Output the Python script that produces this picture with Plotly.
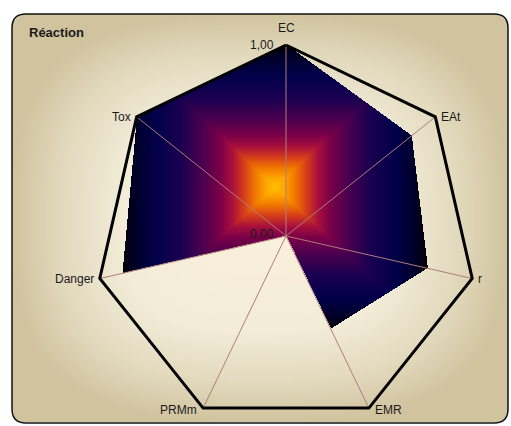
import numpy as np
import plotly.graph_objects as go

# ---------------- data ----------------
categories = ["EC", "EAt", "r", "EMR", "PRMm", "Danger", "Tox"]
values = [1.00, 0.84, 0.76, 0.54, 0.00, 0.88, 1.00]
axis_max = [1.00, 1.00, 1.00, 1.00, 1.00, 1.00, 1.00]
tick_values = [0.00, 1.00]
tick_labels = ["0,00", "1,00"]
title_text = "Réaction"

# ---------------- layout constants ----------------
W, H = 511, 426
CX, CY, R = 286, 236, 191          # radar centre / radius in pixels
FONT = "Liberation Sans, Arial, sans-serif"

n = len(categories)
ang = np.deg2rad(90 - 360.0 / n * np.arange(n))
ux, uy = np.cos(ang), np.sin(ang)

vals = np.array(values)
vx, vy = vals * ux, vals * uy          # data polygon (unit coords)
mx, my = np.array(axis_max) * ux, np.array(axis_max) * uy

# ---------------- background gradient (pixel coords) ----------------
bx0, bx1, by0, by1, rad = 12, 508, 14, 423, 14
step = 2
xs = np.arange(bx0 + step / 2, bx1, step)
ys = np.arange(by0 + step / 2, by1, step)
XX, YY = np.meshgrid(xs, ys)
cxb, cyb = (bx0 + bx1) / 2, (by0 + by1) / 2
hw, hh = (bx1 - bx0) / 2, (by1 - by0) / 2
ax_ = np.abs(XX - cxb) / hw
ay_ = np.abs(YY - cyb) / hh
d = (ax_ ** 3 + ay_ ** 3) ** (1 / 3)
d = np.clip(d, 0, 1)
qx = np.clip(np.abs(XX - cxb) - (hw - rad), 0, None)
qy = np.clip(np.abs(YY - cyb) - (hh - rad), 0, None)
inside_rr = (qx ** 2 + qy ** 2) <= rad ** 2
zbg = np.where(inside_rr, np.round(d, 3), np.nan)
zbg_list = [[None if np.isnan(v) else float(v) for v in row] for row in zbg]

bg_scale = [[0.0, "#FBF1DC"], [0.55, "#F2ECD8"], [0.8, "#E2D9BD"], [1.0, "#D0C39E"]]

# ---------------- radar fill gradient (unit coords) ----------------
s = 1.0 / R
gx = np.arange(vx.min(), vx.max() + s, s)
gy = np.arange(vy.min(), vy.max() + s, s)
GX, GY = np.meshgrid(gx, gy)
inside = np.zeros(GX.shape, dtype=bool)
j = n - 1
for i in range(n):
    xi, yi, xj, yj = vx[i], vy[i], vx[j], vy[j]
    if yi != yj:
        cond = ((yi > GY) != (yj > GY)) & (GX < (xj - xi) * (GY - yi) / (yj - yi) + xi)
        inside ^= cond
    j = i
gcx, gcy = (vx.min() + vx.max()) / 2, (vy.min() + vy.max()) / 2
ghw, ghh = (vx.max() - vx.min()) / 2, (vy.max() - vy.min()) / 2
t = np.maximum(np.abs(GX - gcx) / ghw, np.abs(GY - gcy) / ghh)
t = np.clip(t, 0, 1)
zr = np.where(inside, np.round(t, 3), np.nan)
zr_list = [[None if np.isnan(v) else float(v) for v in row] for row in zr]

fill_scale = [
    [0.00, "#FFC000"], [0.06, "#FFA500"], [0.13, "#F07800"], [0.20, "#D84018"],
    [0.28, "#A8103C"], [0.36, "#7A0048"], [0.48, "#48004F"], [0.62, "#1A0050"],
    [0.78, "#02004A"], [0.90, "#00002C"], [1.00, "#000008"],
]

fig = go.Figure()

fig.add_trace(go.Heatmap(
    z=zbg_list, x0=xs[0], dx=step, y0=ys[0], dy=step,
    colorscale=bg_scale, zmin=0, zmax=1, showscale=False, hoverinfo="skip",
    xaxis="x", yaxis="y",
))

fig.add_trace(go.Heatmap(
    z=zr_list, x0=gx[0], dx=s, y0=gy[0], dy=s,
    colorscale=fill_scale, zmin=0, zmax=1, showscale=False, hoverinfo="skip",
    xaxis="x2", yaxis="y2",
))

# spokes
sx, sy = [], []
for k in range(n):
    sx += [0, mx[k], None]
    sy += [0, my[k], None]
fig.add_trace(go.Scatter(x=sx, y=sy, mode="lines", line=dict(color="#B07C7C", width=1),
                         hoverinfo="skip", xaxis="x2", yaxis="y2", showlegend=False))

# outer heptagon
fig.add_trace(go.Scatter(x=list(mx) + [mx[0]], y=list(my) + [my[0]], mode="lines",
                         line=dict(color="#000000", width=3),
                         hoverinfo="skip", xaxis="x2", yaxis="y2", showlegend=False))

annotations = []
for k, name in enumerate(categories):
    if abs(ux[k]) < 0.1:
        xa, xsft = "center", 0
    elif ux[k] > 0:
        xa, xsft = "left", 4
    else:
        xa, xsft = "right", -4
    if uy[k] > 0.95:
        ysft = 17
    elif uy[k] < -0.5:
        ysft = -2
    else:
        ysft = 0
    annotations.append(dict(x=mx[k], y=my[k], xref="x2", yref="y2", text=name,
                            showarrow=False, xanchor=xa, yanchor="middle",
                            xshift=xsft, yshift=ysft,
                            font=dict(family=FONT, size=12, color="#1A1A1A")))
for tv, tl in zip(tick_values, tick_labels):
    annotations.append(dict(x=tv * ux[0], y=tv * uy[0], xref="x2", yref="y2", text=tl,
                            showarrow=False, xanchor="right", yanchor="middle",
                            xshift=-10, yshift=2 if tv == 0 else 0,
                            font=dict(family=FONT, size=12, color="#1A1A1A")))
annotations.append(dict(x=27, y=32, xref="x", yref="y", text="<b>" + title_text + "</b>",
                        showarrow=False, xanchor="left", yanchor="middle",
                        font=dict(family=FONT, size=13, color="#1A1A1A")))

border = (f"M {bx0+rad},{by0} L {bx1-rad},{by0} Q {bx1},{by0} {bx1},{by0+rad} "
          f"L {bx1},{by1-rad} Q {bx1},{by1} {bx1-rad},{by1} L {bx0+rad},{by1} "
          f"Q {bx0},{by1} {bx0},{by1-rad} L {bx0},{by0+rad} Q {bx0},{by0} {bx0+rad},{by0} Z")

fig.update_layout(
    width=W, height=H, margin=dict(l=0, r=0, t=0, b=0),
    paper_bgcolor="#FFFFFF", plot_bgcolor="rgba(0,0,0,0)",
    showlegend=False,
    xaxis=dict(domain=[0, 1], range=[0, W], visible=False, fixedrange=True),
    yaxis=dict(domain=[0, 1], range=[H, 0], visible=False, fixedrange=True),
    xaxis2=dict(domain=[0, 1], range=[(0 - CX) / R, (W - CX) / R], visible=False,
                fixedrange=True, anchor="y2"),
    yaxis2=dict(domain=[0, 1], range=[(CY - H) / R, CY / R], visible=False,
                fixedrange=True, anchor="x2"),
    shapes=[dict(type="path", path=border, xref="x", yref="y",
                 line=dict(color="#111111", width=1.5), fillcolor="rgba(0,0,0,0)")],
    annotations=annotations,
)

fig.write_html("out.html", config={"displayModeBar": False})
